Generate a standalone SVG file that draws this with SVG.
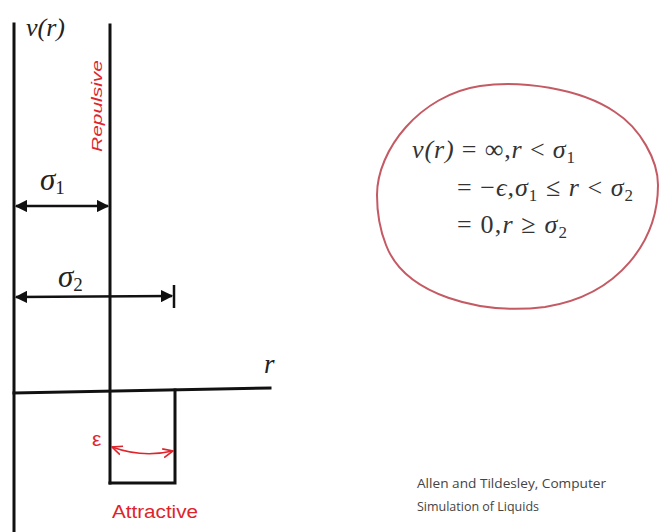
<svg xmlns="http://www.w3.org/2000/svg" width="659" height="532" viewBox="0 0 659 532">
<defs>
<style>
.ax{stroke:#111;stroke-width:3;fill:none;stroke-linecap:square}
.dim{stroke:#111;stroke-width:2.5;fill:none}
.red{fill:#e0242c;font-family:"Liberation Sans","DejaVu Sans",sans-serif}
.math{font-family:"Liberation Serif","DejaVu Serif",serif;font-style:italic;fill:#222}
.eq{font-family:"Liberation Serif","DejaVu Serif",serif;font-style:italic;fill:#333;font-size:26px}
.up{font-style:normal}
.cite{font-family:"Open Sans","Liberation Sans",sans-serif;fill:#444;font-size:13px}
</style>
<marker id="ah" viewBox="0 0 10 10" refX="9" refY="5" markerWidth="5" markerHeight="5" orient="auto-start-reverse" markerUnits="strokeWidth">
<path d="M0,0 L10,5 L0,10 z" fill="#111"/>
</marker>
<marker id="rah" viewBox="0 0 10 10" refX="9" refY="5" markerWidth="7" markerHeight="7" orient="auto-start-reverse" markerUnits="strokeWidth">
<path d="M0,1 L9,5 L0,9" fill="none" stroke="#e0242c" stroke-width="1.5"/>
</marker>
</defs>
<rect width="659" height="532" fill="#fff"/>

<g id="axes">
<line class="ax" x1="14" y1="24" x2="14" y2="532"/>
<line class="ax" x1="110" y1="25" x2="110" y2="483"/>
<path class="ax" d="M14,393 L270,388"/>
<path class="ax" d="M110,483 L175,483 L175,390"/>
</g>

<g id="connectors">
<line class="dim" x1="16" y1="206" x2="108" y2="206" marker-start="url(#ah)" marker-end="url(#ah)"/>
<line class="dim" x1="16" y1="297" x2="172" y2="296" marker-start="url(#ah)" marker-end="url(#ah)"/>
<line class="dim" x1="174" y1="285" x2="174" y2="308"/>
<path d="M112,447 Q142,458 173,451" fill="none" stroke="#e0242c" stroke-width="1.6" marker-start="url(#rah)" marker-end="url(#rah)"/>
</g>

<g id="label-vr"><text class="math" x="26" y="36" font-size="26">v(r)</text></g>
<g id="label-r"><text class="math" x="264" y="373" font-size="27">r</text></g>
<g id="label-sigma1"><text class="math" x="40" y="190" font-size="31">σ<tspan class="up" font-size="19" dy="4">1</tspan></text></g>
<g id="label-sigma2"><text class="math" x="58" y="287" font-size="31">σ<tspan class="up" font-size="19" dy="4">2</tspan></text></g>
<g id="label-repulsive"><text class="red" font-size="15" font-style="italic" textLength="92" lengthAdjust="spacingAndGlyphs" transform="translate(102,152) rotate(-90)">Repulsive</text></g>
<g id="label-epsilon"><text class="red" x="92" y="446" font-size="21">ε</text></g>
<g id="label-attractive"><text class="red" x="112" y="518" font-size="18" textLength="86" lengthAdjust="spacingAndGlyphs">Attractive</text></g>

<g id="equation">
<path d="M377,195 C377,150 420,95 480,86 C520,80 580,88 615,112 C640,128 658,160 658,185 C658,240 620,295 545,307 C480,315 405,295 386,245 C380,230 377,210 377,195 Z" fill="none" stroke="#c45a63" stroke-width="2"/>
<text class="eq" x="412" y="158" textLength="163" lengthAdjust="spacing">v(r) <tspan class="up">= ∞,</tspan>r <tspan class="up">&lt;</tspan> σ<tspan class="up" font-size="17" dy="5">1</tspan></text>
<text class="eq" x="457" y="196" textLength="176" lengthAdjust="spacing"><tspan class="up">= −</tspan>ϵ,σ<tspan class="up" font-size="17" dy="5">1</tspan><tspan class="up" dy="-5"> ≤ </tspan>r <tspan class="up">&lt;</tspan> σ<tspan class="up" font-size="17" dy="5">2</tspan></text>
<text class="eq" x="457" y="233" textLength="110" lengthAdjust="spacing"><tspan class="up">= 0,</tspan>r <tspan class="up">≥</tspan> σ<tspan class="up" font-size="17" dy="5">2</tspan></text>
</g>

<g id="citation">
<text class="cite" x="417" y="488" textLength="189" lengthAdjust="spacingAndGlyphs">Allen and Tildesley, Computer</text>
<text class="cite" x="417" y="511" textLength="122" lengthAdjust="spacingAndGlyphs">Simulation of Liquids</text>
</g>
</svg>
